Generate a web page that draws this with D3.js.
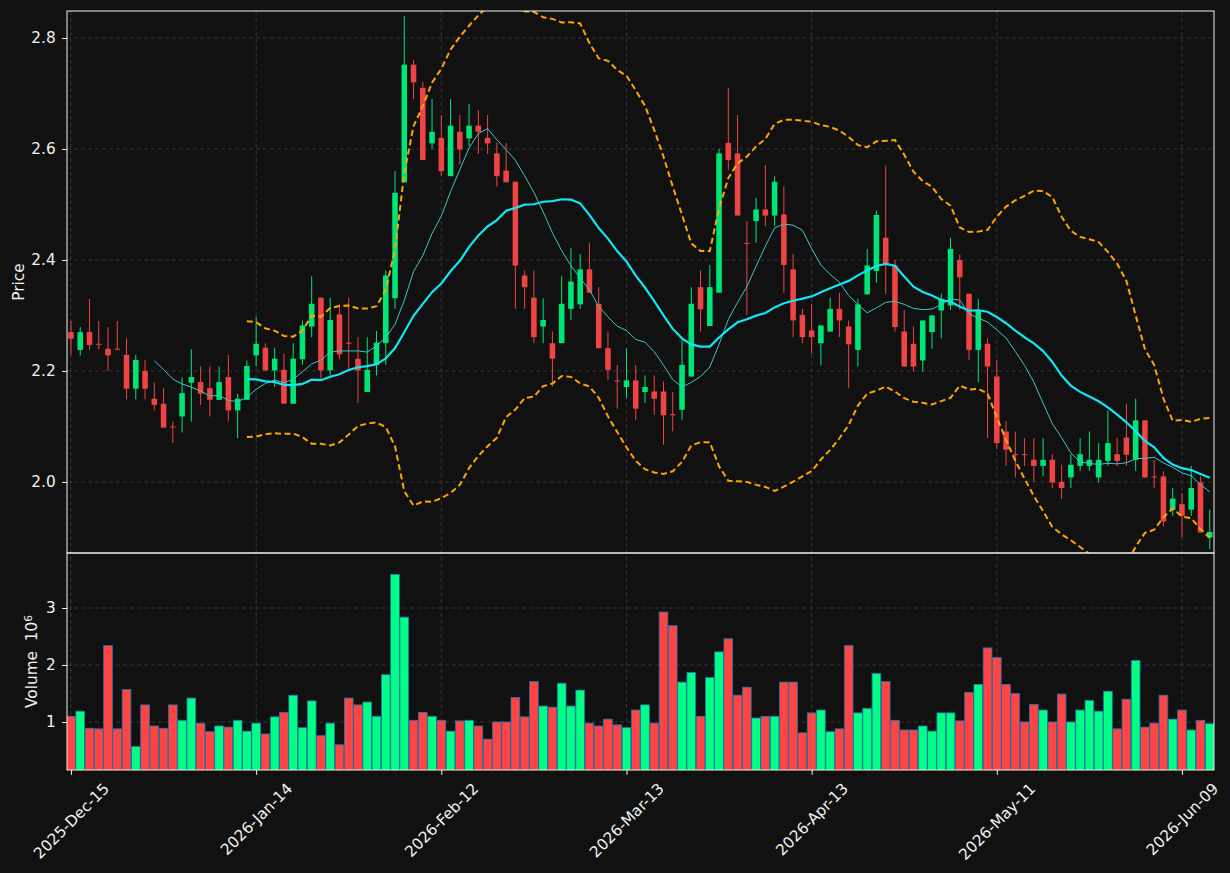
<!DOCTYPE html>
<html lang="en">
<head>
<meta charset="utf-8">
<title>Candlestick with Bollinger bands</title>
<script src="https://d3js.org/d3.v7.min.js"></script>
<style>
  body { margin: 0; background: #111111; }
  svg text { font-family: "DejaVu Sans", sans-serif; fill: #f2f2f2; }
  .axis path, .axis line { stroke: #f2f2f2; stroke-width: 1; }
  .axis text { font-size: 15.3px; }
  .grid line { stroke: #3d3d3d; stroke-dasharray: 4,3; stroke-width: 0.8; }
</style>
</head>
<body>
<svg id="chart" width="1230" height="873"></svg>
<script>
// x ticks (bar index -> label)
const tickIdx = [0, 20, 40, 60, 80, 100, 120];
const tickLabels = ["2025-Dec-15", "2026-Jan-14", "2026-Feb-12", "2026-Mar-13", "2026-Apr-13", "2026-May-11", "2026-Jun-09"];

// OHLC, one value per trading day
const opens = [2.270,2.238,2.270,2.249,2.240,2.240,2.229,2.168,2.200,2.150,
  2.141,2.100,2.118,2.179,2.180,2.169,2.148,2.189,2.129,2.148,
  2.228,2.242,2.201,2.202,2.141,2.221,2.280,2.332,2.201,2.302,
  2.251,2.222,2.162,2.211,2.250,2.331,2.540,2.752,2.710,2.610,
  2.620,2.551,2.631,2.619,2.642,2.620,2.592,2.561,2.541,2.372,
  2.332,2.280,2.250,2.250,2.312,2.320,2.383,2.321,2.241,2.183,
  2.171,2.183,2.162,2.163,2.163,2.122,2.130,2.190,2.351,2.281,
  2.341,2.611,2.592,2.431,2.470,2.491,2.480,2.482,2.383,2.301,
  2.273,2.250,2.271,2.312,2.280,2.238,2.338,2.380,2.440,2.390,
  2.271,2.249,2.219,2.270,2.309,2.318,2.400,2.339,2.238,2.249,
  2.190,2.091,2.050,2.050,2.040,2.029,2.040,2.000,2.008,2.029,
  2.029,2.008,2.038,2.050,2.080,2.040,2.111,2.010,2.010,1.950,
  1.960,1.950,1.999,1.900];
const highs = [2.290,2.279,2.330,2.290,2.279,2.290,2.259,2.229,2.220,2.179,
  2.169,2.109,2.188,2.239,2.208,2.208,2.208,2.229,2.159,2.219,
  2.298,2.250,2.242,2.231,2.250,2.291,2.371,2.332,2.332,2.320,
  2.332,2.261,2.261,2.272,2.381,2.560,2.840,2.760,2.721,2.690,
  2.661,2.690,2.661,2.681,2.670,2.661,2.612,2.611,2.541,2.381,
  2.381,2.331,2.271,2.371,2.421,2.411,2.431,2.351,2.271,2.211,
  2.241,2.211,2.192,2.192,2.181,2.162,2.256,2.351,2.381,2.391,
  2.600,2.710,2.661,2.470,2.512,2.571,2.551,2.532,2.411,2.312,
  2.321,2.282,2.332,2.341,2.291,2.330,2.420,2.489,2.570,2.400,
  2.310,2.280,2.291,2.300,2.339,2.440,2.410,2.339,2.330,2.259,
  2.220,2.110,2.091,2.079,2.079,2.079,2.050,2.031,2.050,2.079,
  2.091,2.070,2.129,2.079,2.141,2.150,2.111,2.040,2.019,1.989,
  1.980,2.029,2.010,1.950];
const lows = [2.229,2.228,2.238,2.239,2.200,2.238,2.149,2.149,2.149,2.129,
  2.098,2.070,2.089,2.109,2.139,2.118,2.148,2.109,2.079,2.148,
  2.208,2.201,2.171,2.141,2.141,2.211,2.261,2.182,2.192,2.221,
  2.201,2.142,2.162,2.192,2.211,2.312,2.540,2.690,2.580,2.600,
  2.551,2.551,2.572,2.605,2.591,2.591,2.532,2.540,2.312,2.312,
  2.250,2.250,2.172,2.250,2.292,2.312,2.341,2.241,2.183,2.132,
  2.151,2.112,2.142,2.121,2.067,2.091,2.112,2.190,2.271,2.281,
  2.341,2.562,2.480,2.301,2.431,2.461,2.461,2.341,2.261,2.250,
  2.231,2.210,2.271,2.261,2.169,2.208,2.338,2.359,2.339,2.271,
  2.208,2.199,2.199,2.240,2.259,2.310,2.310,2.220,2.180,2.079,
  2.059,2.029,2.008,2.029,2.000,2.010,1.989,1.969,1.989,2.020,
  2.020,1.999,2.029,2.029,2.029,2.020,2.008,1.989,1.920,1.939,
  1.900,1.939,1.909,1.879];
const closes = [2.258,2.270,2.247,2.248,2.228,2.239,2.168,2.220,2.168,2.139,
  2.098,2.099,2.160,2.189,2.159,2.148,2.180,2.129,2.150,2.209,
  2.249,2.201,2.222,2.141,2.222,2.282,2.321,2.201,2.292,2.230,
  2.249,2.201,2.202,2.251,2.372,2.521,2.752,2.720,2.580,2.631,
  2.560,2.642,2.599,2.642,2.631,2.610,2.551,2.540,2.390,2.351,
  2.261,2.292,2.222,2.321,2.361,2.383,2.341,2.241,2.202,2.182,
  2.183,2.132,2.171,2.150,2.120,2.121,2.211,2.321,2.311,2.351,
  2.592,2.580,2.480,2.430,2.491,2.480,2.541,2.391,2.291,2.261,
  2.261,2.282,2.312,2.291,2.248,2.320,2.390,2.481,2.390,2.279,
  2.208,2.208,2.291,2.300,2.330,2.420,2.369,2.238,2.309,2.208,
  2.070,2.058,2.049,2.049,2.029,2.040,1.999,1.989,2.031,2.050,
  2.040,2.040,2.070,2.038,2.049,2.111,2.008,2.009,1.929,1.970,
  1.939,1.989,1.909,1.910];
// volume in millions
const volumes = [1.10,1.19,0.89,0.88,2.34,0.88,1.57,0.57,1.30,0.93,
  0.89,1.30,1.03,1.42,0.98,0.83,0.93,0.91,1.03,0.84,
  0.98,0.79,1.09,1.17,1.47,0.90,1.37,0.76,0.98,0.60,
  1.42,1.30,1.35,1.10,1.83,3.59,2.84,1.03,1.17,1.10,
  1.03,0.84,1.02,1.03,0.93,0.70,1.00,1.00,1.43,1.09,
  1.71,1.28,1.26,1.68,1.28,1.56,0.98,0.93,1.05,0.95,
  0.90,1.21,1.30,0.98,2.93,2.69,1.70,1.87,1.10,1.78,
  2.23,2.46,1.47,1.61,1.07,1.10,1.10,1.70,1.70,0.81,
  1.16,1.21,0.83,0.88,2.34,1.16,1.24,1.85,1.71,1.03,
  0.86,0.86,0.93,0.84,1.16,1.16,1.02,1.52,1.66,2.30,
  2.13,1.66,1.50,1.00,1.31,1.21,1.00,1.49,1.00,1.21,
  1.38,1.19,1.54,0.88,1.40,2.08,0.91,0.98,1.47,1.05,
  1.21,0.86,1.03,0.97];

const svg = d3.select("#chart");
const left = 67, right = 1214;
const pTop = 11, pBot = 553, vBot = 770;

const x = d3.scaleLinear().domain([-0.43, 123.46]).range([left, right]);
const yP = d3.scaleLinear().domain([1.872, 2.8486]).range([pBot, pTop]);
const yV = d3.scaleLinear().domain([0.158, 3.965]).range([vBot, pBot]);
const bw = (x(1) - x(0));

const upC = "#00e676", downC = "#ef4444";
const vUp = "#00ff84", vDown = "#ff4444";

// clip areas
const defs = svg.append("defs");
defs.append("clipPath").attr("id", "clipP").append("rect")
  .attr("x", left).attr("y", pTop).attr("width", right - left).attr("height", pBot - pTop);
defs.append("clipPath").attr("id", "clipV").append("rect")
  .attr("x", left).attr("y", pBot).attr("width", right - left).attr("height", vBot - pBot);

// grids
const gridP = svg.append("g").attr("class", "grid");
gridP.selectAll("line.h").data([2.0, 2.2, 2.4, 2.6, 2.8]).enter().append("line")
  .attr("x1", left).attr("x2", right).attr("y1", d => yP(d)).attr("y2", d => yP(d));
gridP.selectAll("line.hv").data([1, 2, 3]).enter().append("line")
  .attr("x1", left).attr("x2", right).attr("y1", d => yV(d)).attr("y2", d => yV(d));
gridP.selectAll("line.v").data(tickIdx).enter().append("line")
  .attr("x1", d => x(d)).attr("x2", d => x(d)).attr("y1", pTop).attr("y2", vBot);

// candles
const idx = d3.range(closes.length);
const gC = svg.append("g").attr("clip-path", "url(#clipP)");
gC.selectAll("line.wick").data(idx).enter().append("line")
  .attr("x1", i => x(i)).attr("x2", i => x(i))
  .attr("y1", i => yP(highs[i])).attr("y2", i => yP(lows[i]))
  .attr("stroke", i => closes[i] >= opens[i] ? upC : downC)
  .attr("stroke-width", 1);
gC.selectAll("rect.body").data(idx).enter().append("rect")
  .attr("x", i => x(i) - bw * 0.3)
  .attr("width", bw * 0.6)
  .attr("y", i => yP(Math.max(opens[i], closes[i])))
  .attr("height", i => Math.max(1, Math.abs(yP(opens[i]) - yP(closes[i]))))
  .attr("fill", i => closes[i] >= opens[i] ? upC : downC);

// moving averages and bands, computed from the closes
function sma(n) {
  return closes.map((d, i) => i < n - 1 ? null : d3.mean(closes.slice(i - n + 1, i + 1)));
}
function sdev(n) {
  return closes.map((d, i) => i < n - 1 ? null : d3.deviation(closes.slice(i - n + 1, i + 1)));
}
const ma10 = sma(10), ma20 = sma(20), sd20 = sdev(20);
const upper = ma20.map((m, i) => m == null ? null : m + 2 * sd20[i]);
const lower = ma20.map((m, i) => m == null ? null : m - 2 * sd20[i]);

const line = arr => d3.line().defined(i => arr[i] != null).x(i => x(i)).y(i => yP(arr[i]))(idx);
gC.append("path").attr("d", line(ma10)).attr("fill", "none")
  .attr("stroke", "#3ec6c6").attr("stroke-width", 1);
gC.append("path").attr("d", line(ma20)).attr("fill", "none")
  .attr("stroke", "#12e6f5").attr("stroke-width", 2.2);
[upper, lower].forEach(b => {
  gC.append("path").attr("d", line(b)).attr("fill", "none")
    .attr("stroke", "#ffa500").attr("stroke-width", 2).attr("stroke-dasharray", "6,3.5");
});

// volume bars
const gV = svg.append("g").attr("clip-path", "url(#clipV)");
gV.selectAll("rect").data(idx).enter().append("rect")
  .attr("x", i => x(i) - bw * 0.47)
  .attr("width", bw * 0.94)
  .attr("y", i => yV(volumes[i]))
  .attr("height", i => yV(0) - yV(volumes[i]))
  .attr("fill", i => closes[i] >= opens[i] ? vUp : vDown)
  .attr("stroke", "#1f77b4").attr("stroke-width", 0.8);

// axes
svg.append("g").attr("class", "axis").attr("transform", `translate(${left},0)`)
  .call(d3.axisLeft(yP).tickValues([2.0, 2.2, 2.4, 2.6, 2.8]).tickFormat(d3.format(".1f"))
    .tickSize(4.9).tickPadding(6.5))
  .call(g => g.select(".domain").remove());
svg.append("g").attr("class", "axis").attr("transform", `translate(${left},0)`)
  .call(d3.axisLeft(yV).tickValues([1, 2, 3]).tickFormat(d3.format("d"))
    .tickSize(4.9).tickPadding(6.5))
  .call(g => g.select(".domain").remove());
const xa = svg.append("g").attr("class", "axis").attr("transform", `translate(0,${vBot})`)
  .call(d3.axisBottom(x).tickValues(tickIdx).tickFormat((d, k) => tickLabels[k])
    .tickSize(4.9).tickPadding(4.9));
xa.select(".domain").remove();
xa.selectAll("text").each(function(d) {
  const t = d3.select(this);
  const L = this.getComputedTextLength();
  const half = (L + 17.8) * 0.7071 / 2;
  t.attr("y", null).attr("dy", null)
    .attr("text-anchor", "middle")
    .attr("dominant-baseline", "central")
    .attr("transform", `translate(0,${9.8 + half}) rotate(-45)`);
});

// frames
[[pTop, pBot], [pBot, vBot]].forEach(([a, b]) => {
  svg.append("rect").attr("x", left).attr("y", a).attr("width", right - left).attr("height", b - a)
    .attr("fill", "none").attr("stroke", "#f2f2f2").attr("stroke-width", 1);
});

// axis labels
svg.append("text").attr("transform", `translate(24,${(pTop + pBot) / 2}) rotate(-90)`)
  .attr("text-anchor", "middle").style("font-size", "15.3px").text("Price");
const vl = svg.append("text").attr("transform", `translate(37,${(pBot + vBot) / 2}) rotate(-90)`)
  .attr("text-anchor", "middle").style("font-size", "15.3px");
vl.append("tspan").text("Volume\u00a0\u00a010");
vl.append("tspan").attr("dy", "-0.45em").style("font-size", "10.7px").text("6");
</script>
</body>
</html>
